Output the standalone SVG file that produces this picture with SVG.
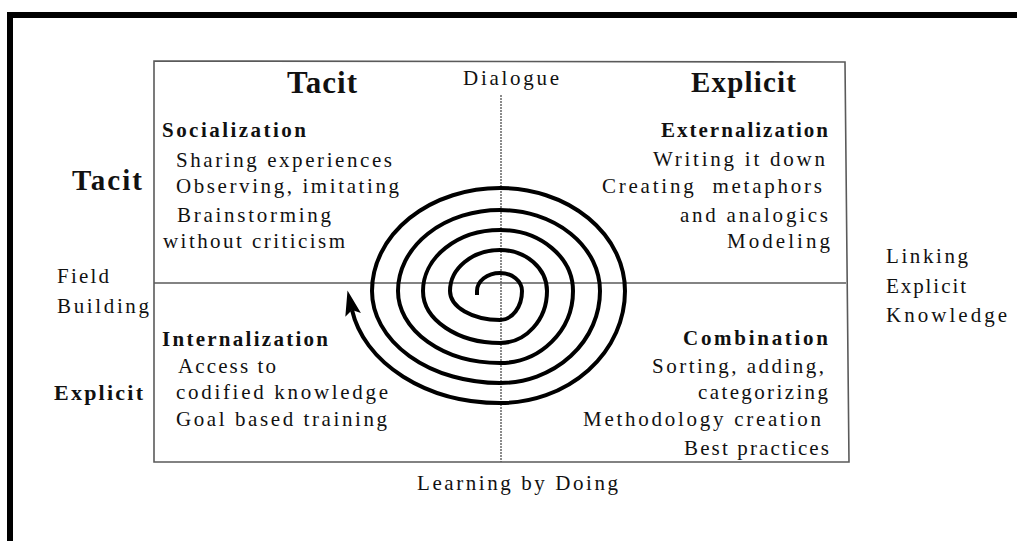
<svg xmlns="http://www.w3.org/2000/svg" width="1017" height="541" viewBox="0 0 1017 541">
  <style>
    .t { font-family: "Liberation Serif", "Times New Roman", serif; fill: #111; }
    .body { font-size: 21px; }
    .sub { font-size: 21px; font-weight: bold; }
    .frame { fill: none; stroke: #5a5a5a; stroke-width: 1.6; }
    .axis { stroke: #5a5a5a; stroke-width: 1.4; }
    .spiral { fill: none; stroke: #000; stroke-width: 4; stroke-linejoin: round; }
  </style>
  <defs>
    <marker id="arrowHead" markerUnits="userSpaceOnUse" viewBox="0 0 30 20" markerWidth="30" markerHeight="20" refX="5" refY="9" orient="auto">
      <path d="M0,1 L25,9 L0,17 L5,9 Z" fill="#000"/>
    </marker>
  </defs>

  <rect width="1017" height="541" fill="#fff"/>

  <!-- heavy page border, top and left -->
  <g id="page-border" fill="#000">
    <rect x="7" y="12" width="1010" height="6"/>
    <rect x="7" y="12" width="6" height="529"/>
  </g>

  <!-- quadrant grid -->
  <g id="grid">
    <path class="frame" d="M154,61 L845,62 L849,462 L154,462 Z"/>
    <line class="axis" x1="154" y1="283" x2="846" y2="283"/>
    <line class="axis" x1="501" y1="95" x2="501" y2="462" stroke-dasharray="2 1"/>
  </g>

  <!-- axis headings -->
  <g id="heading-top-tacit">
    <text class="t" x="287" y="93" font-size="31" font-weight="bold" textLength="70" lengthAdjust="spacing">Tacit</text>
  </g>
  <g id="heading-top-explicit">
    <text class="t" x="691" y="92" font-size="29" font-weight="bold" textLength="105" lengthAdjust="spacing">Explicit</text>
  </g>
  <g id="heading-left-tacit">
    <text class="t" x="72" y="190" font-size="29" font-weight="bold" textLength="70" lengthAdjust="spacing">Tacit</text>
  </g>
  <g id="heading-left-explicit">
    <text class="t" x="54" y="400" font-size="22" font-weight="bold" textLength="89" lengthAdjust="spacing">Explicit</text>
  </g>

  <!-- transition labels -->
  <g id="label-dialogue">
    <text class="t body" x="463" y="85" font-size="20" textLength="96" lengthAdjust="spacing">Dialogue</text>
  </g>
  <g id="label-field-building">
    <text class="t body" x="57" y="283" textLength="52" lengthAdjust="spacing">Field</text>
    <text class="t body" x="57" y="313" textLength="92" lengthAdjust="spacing">Building</text>
  </g>
  <g id="label-linking">
    <text class="t body" x="886" y="263" textLength="82" lengthAdjust="spacing">Linking</text>
    <text class="t body" x="886" y="293" textLength="80" lengthAdjust="spacing">Explicit</text>
    <text class="t body" x="886" y="322" textLength="121" lengthAdjust="spacing">Knowledge</text>
  </g>
  <g id="label-learning">
    <text class="t body" x="417" y="490" textLength="201" lengthAdjust="spacing">Learning by Doing</text>
  </g>

  <!-- quadrants -->
  <g id="socialization">
    <text class="t sub" x="162" y="137" textLength="144" lengthAdjust="spacing">Socialization</text>
    <text class="t body" x="176" y="167" textLength="216" lengthAdjust="spacing">Sharing experiences</text>
    <text class="t body" x="176" y="193" textLength="223" lengthAdjust="spacing">Observing, imitating</text>
    <text class="t body" x="177" y="222" textLength="154" lengthAdjust="spacing">Brainstorming</text>
    <text class="t body" x="163" y="248" textLength="182" lengthAdjust="spacing">without criticism</text>
  </g>
  <g id="externalization">
    <text class="t sub" x="661" y="137" textLength="167" lengthAdjust="spacing">Externalization</text>
    <text class="t body" x="653" y="166" textLength="172" lengthAdjust="spacing">Writing it down</text>
    <text class="t body" x="602" y="193" textLength="220" lengthAdjust="spacing" xml:space="preserve">Creating  metaphors</text>
    <text class="t body" x="680" y="222" textLength="148" lengthAdjust="spacing">and analogics</text>
    <text class="t body" x="727" y="248" textLength="103" lengthAdjust="spacing">Modeling</text>
  </g>
  <g id="internalization">
    <text class="t sub" x="162" y="346" textLength="166" lengthAdjust="spacing">Internalization</text>
    <text class="t body" x="178" y="373" textLength="98" lengthAdjust="spacing">Access to</text>
    <text class="t body" x="176" y="399" textLength="212" lengthAdjust="spacing">codified knowledge</text>
    <text class="t body" x="176" y="426" textLength="211" lengthAdjust="spacing">Goal based training</text>
  </g>
  <g id="combination">
    <text class="t sub" x="683" y="345" textLength="145" lengthAdjust="spacing">Combination</text>
    <text class="t body" x="652" y="373" textLength="172" lengthAdjust="spacing">Sorting, adding,</text>
    <text class="t body" x="698" y="399" textLength="130" lengthAdjust="spacing">categorizing</text>
    <text class="t body" x="583" y="426" textLength="238" lengthAdjust="spacing">Methodology creation</text>
    <text class="t body" x="684" y="455" textLength="145" lengthAdjust="spacing">Best practices</text>
  </g>

  <!-- knowledge spiral, built from quarter-ellipse arcs -->
  <g id="connectors">
    <path class="spiral" marker-end="url(#arrowHead)" d="M477,295 L477,291
      A23,18 0 0 1 500,273
      A22,18 0 0 1 522,291
      A22,29 0 0 1 500,320
      A50,29 0 0 1 450,291
      A50,41 0 0 1 500,250
      A47,41 0 0 1 547,291
      A47,52 0 0 1 500,343
      A77,52 0 0 1 423,291
      A77,61 0 0 1 500,230
      A73,61 0 0 1 573,291
      A73,72 0 0 1 500,363
      A102,72 0 0 1 398,291
      A102,81 0 0 1 500,210
      A100,81 0 0 1 600,291
      A100,92 0 0 1 500,383
      A128,92 0 0 1 372,291
      A128,103 0 0 1 500,188
      A125,103 0 0 1 625,291
      A125,112 0 0 1 500,403
      A150,112 0 0 1 352,310"/>
  </g>
</svg>
